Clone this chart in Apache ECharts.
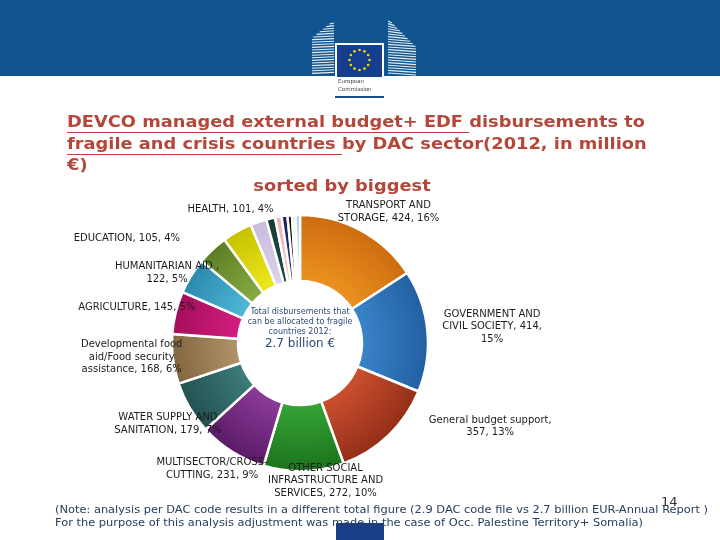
<!DOCTYPE html>
<html><head><meta charset="utf-8">
<script src="https://cdn.jsdelivr.net/npm/echarts@6/dist/echarts.min.js"></script>
<style>html,body{margin:0;padding:0;background:#fff}#c{width:720px;height:540px}</style>
</head><body><div id="c"></div>
<script>
// ---------- DATA ----------
const categories = [
  'TRANSPORT AND\nSTORAGE',
  'GOVERNMENT AND\nCIVIL SOCIETY',
  'General budget support',
  'OTHER SOCIAL\nINFRASTRUCTURE AND\nSERVICES',
  'MULTISECTOR/CROSS-\nCUTTING',
  'WATER SUPPLY AND\nSANITATION',
  'Developmental food\naid/Food security\nassistance',
  'AGRICULTURE',
  'HUMANITARIAN AID ,',
  'EDUCATION',
  'HEALTH',
  'Unlabelled sector A',
  'Unlabelled sector B',
  'Unlabelled sector C',
  'Unlabelled sector D',
  'Unlabelled sector E',
  'Unlabelled sector F',
  'Unlabelled sector G'
];
const values = [424, 414, 357, 272, 231, 179, 168, 145, 122, 105, 101, 55, 30, 22, 20, 15, 12, 15];
// label templates ({n}=name, {v}=value, {p}=percent); empty = no label
const labelFormats = [
  '{n}, {v}, {p}%',
  '{n}, {v},\n{p}%',
  '{n},\n{v}, {p}%',
  '{n}, {v}, {p}%',
  '{n}, {v}, {p}%',
  '{n}, {v}, {p}%',
  '{n}, {v}, {p}%',
  '{n}, {v}, {p}%',
  '{n}\n{v}, {p}%',
  '{n}, {v}, {p}%',
  '{n}, {v}, {p}%'
];
const titleLines = [
  ['DEVCO managed external budget+ EDF ', 'disbursements to'],
  ['fragile and crisis countries ', 'by DAC sector(2012, in million'],
  ['', '€)']
];
const subtitle = 'sorted by biggest';
const centerNote = 'Total disbursements that\ncan be allocated to fragile\ncountries 2012:';
const centerTotal = '2.7 billion €';
const footnote = [
  '(Note: analysis per DAC code results in a different total figure (2.9 DAC code file vs 2.7 billion EUR-Annual Report )',
  'For the purpose of this analysis adjustment was made in the case of Occ. Palestine Territory+ Somalia)'
];
const pageNumber = '14';

// ---------- STYLE ----------
const colorPairs = [
  ['#EC921F', '#CE6C10'],
  ['#3A84CA', '#2260A2'],
  ['#CC5030', '#942E18'],
  ['#36A436', '#1C741C'],
  ['#8C3C98', '#5C1A68'],
  ['#3E7C7C', '#235252'],
  ['#B2946A', '#82663F'],
  ['#D41E80', '#A40E5A'],
  ['#50B8D6', '#2C8AAC'],
  ['#88AC44', '#5C7E24'],
  ['#EEEA1C', '#C6C000'],
  ['#DCD2EA', '#C8BCDC'],
  ['#1E4E44', '#163C34'],
  ['#F4C8CC', '#EAB4BA'],
  ['#24307E', '#18205C'],
  ['#181818', '#0A0A0A'],
  ['#EEF0F4', '#E2E4EA'],
  ['#C4DAF0', '#A8C6E6']
];
const labelNudge = [
  [2, -5], [12, -2], [57, -20], [20, -12], [11, 4], [27, 8],
  [12, -5], [21, -3], [23, 5], [-47, -5], [16, -14]
];
const PIE = { cx: 300, cy: 343, inner: 62, outer: 128 };
const FONT = '"DejaVu Sans", Verdana, sans-serif';

const total = values.reduce((a, b) => a + b, 0);
const midAngles = [];
(function () {
  let acc = 0;
  values.forEach(v => { midAngles.push((acc + v / 2) / total * 360); acc += v; });
})();

const ctx = document.createElement('canvas').getContext('2d');
function tw(t, font) { ctx.font = font; return ctx.measureText(t).width; }
// horizontally fitted text element
function fitText(text, x, y, font, fill, targetW, align) {
  const w = tw(text, font);
  const s = targetW / w;
  return { type: 'text', x: x, y: y, scaleX: s, originX: 0, originY: 0,
    style: { text: text, font: font, fill: fill, verticalAlign: 'middle', align: align || 'left' }, silent: true };
}

const graphics = [];
// header band
graphics.push({ type: 'rect', shape: { x: 0, y: 0, width: 720, height: 76 }, style: { fill: '#10558F' }, silent: true });
// left building stripes
for (let y = 24; y <= 75; y += 2.6) {
  let x0 = y < 38 ? 312 + (38 - y) / 16 * 20 : 312;
  graphics.push({ type: 'line', shape: { x1: x0, y1: y, x2: 334, y2: y - 1 }, style: { stroke: '#ffffff', lineWidth: 1.1, opacity: 0.9 }, silent: true });
}
// right building stripes
for (let y = 22; y <= 75; y += 2.6) {
  let x1 = y < 46 ? 392 + (y - 22) / 24 * 24 : 416;
  graphics.push({ type: 'line', shape: { x1: 388, y1: y - 1, x2: x1, y2: y + 1 }, style: { stroke: '#ffffff', lineWidth: 1.1, opacity: 0.9 }, silent: true });
}
// flag
graphics.push({ type: 'rect', shape: { x: 335, y: 43, width: 49, height: 34 }, style: { fill: '#ffffff' }, silent: true });
graphics.push({ type: 'rect', shape: { x: 337, y: 45, width: 45, height: 32 }, style: { fill: '#163E8E' }, silent: true });
for (let k = 0; k < 12; k++) {
  const a = k / 12 * Math.PI * 2;
  graphics.push({ type: 'circle', shape: { cx: 359.5 + 10 * Math.sin(a), cy: 60 - 10 * Math.cos(a), r: 1.3 }, style: { fill: '#F5D800' }, silent: true });
}
graphics.push({ type: 'text', x: 338, y: 82, style: { text: 'European', font: '5.5px ' + FONT, fill: '#444', verticalAlign: 'middle' }, silent: true });
graphics.push({ type: 'text', x: 338, y: 90, style: { text: 'Commission', font: '5.5px ' + FONT, fill: '#444', verticalAlign: 'middle' }, silent: true });
graphics.push({ type: 'rect', shape: { x: 335, y: 96, width: 49, height: 2 }, style: { fill: '#1A4C8C' }, silent: true });
// bottom tab
graphics.push({ type: 'rect', shape: { x: 336, y: 523, width: 48, height: 17 }, style: { fill: '#1A3E86' }, silent: true });

// title
const titleFont = 'bold 16.5px ' + FONT;
const titleColor = '#B4473A';
const titleY = [123, 145, 166];
const titleScale = 578 / tw(titleLines[0][0] + titleLines[0][1], titleFont);
titleLines.forEach((ln, j) => {
  const full = ln[0] + ln[1];
  graphics.push(fitText(full, 67, titleY[j], titleFont, titleColor, tw(full, titleFont) * titleScale));
  if (ln[0]) {
    const w = tw(ln[0], titleFont) * titleScale;
    graphics.push({ type: 'line', shape: { x1: 67, y1: titleY[j] + 9.5, x2: 67 + w, y2: titleY[j] + 9.5 }, style: { stroke: titleColor, lineWidth: 1.2 }, silent: true });
  }
});
(function () {
  const w = tw(subtitle, titleFont) * titleScale;
  graphics.push(fitText(subtitle, 342 - w / 2, 187, titleFont, titleColor, w));
})();

// center text
graphics.push({ type: 'text', x: PIE.cx, y: 322, style: { text: centerNote, font: '8px ' + FONT, lineHeight: 9.8, fill: '#2C4C78', align: 'center', verticalAlign: 'middle' }, silent: true });
graphics.push({ type: 'text', x: PIE.cx, y: 344, style: { text: centerTotal, font: '12px ' + FONT, fill: '#2C4C78', align: 'center', verticalAlign: 'middle' }, silent: true });

// footnote
const footFont = '10px ' + FONT;
const footScale = 653 / tw(footnote[0], footFont);
graphics.push(fitText(footnote[0], 55, 510, footFont, '#27405E', tw(footnote[0], footFont) * footScale));
graphics.push(fitText(footnote[1], 55, 523, footFont, '#27405E', tw(footnote[1], footFont) * footScale));
graphics.push({ type: 'text', x: 661, y: 503, style: { text: pageNumber, font: '13px ' + FONT, fill: '#333', verticalAlign: 'middle' }, silent: true });

const pieData = values.map((v, i) => ({
  name: categories[i],
  value: v,
  itemStyle: {
    color: {
      type: 'radial', x: PIE.cx, y: PIE.cy, r: PIE.outer, global: true,
      colorStops: [{ offset: 0.48, color: colorPairs[i][0] }, { offset: 1, color: colorPairs[i][1] }]
    }
  },
  label: { show: i < labelFormats.length }
}));

const chart = echarts.init(document.getElementById('c'), null, { renderer: 'canvas' });
chart.setOption({
  animation: false,
  backgroundColor: '#ffffff',
  graphic: graphics,
  series: [{
    type: 'pie',
    center: [PIE.cx, PIE.cy],
    radius: [PIE.inner, PIE.outer],
    startAngle: 90,
    clockwise: true,
    avoidLabelOverlap: false,
    silent: true,
    itemStyle: { borderColor: '#ffffff', borderWidth: 2.5 },
    label: {
      position: 'outside',
      fontFamily: FONT,
      fontSize: 10,
      lineHeight: 12.5,
      color: '#1C1C1C',
      align: 'center',
      formatter: function (p) {
        const f = labelFormats[p.dataIndex];
        if (!f) return '';
        const pct = Math.round(p.value / total * 100);
        return f.replace('{n}', p.name).replace('{v}', p.value).replace('{p}', pct);
      }
    },
    labelLine: { show: false },
    labelLayout: function (p) {
      const i = p.dataIndex;
      if (i >= labelFormats.length) return {};
      const ang = midAngles[i] * Math.PI / 180;
      const sx = Math.sin(ang), sy = -Math.cos(ang);
      const R = PIE.outer + 3;
      const w = p.labelRect.width, h = p.labelRect.height;
      return {
        x: PIE.cx + R * sx + sx * w / 2 + labelNudge[i][0],
        y: PIE.cy + R * sy + sy * h / 2 + labelNudge[i][1],
        align: 'center',
        verticalAlign: 'middle'
      };
    },
    data: pieData
  }]
});
</script></body></html>
